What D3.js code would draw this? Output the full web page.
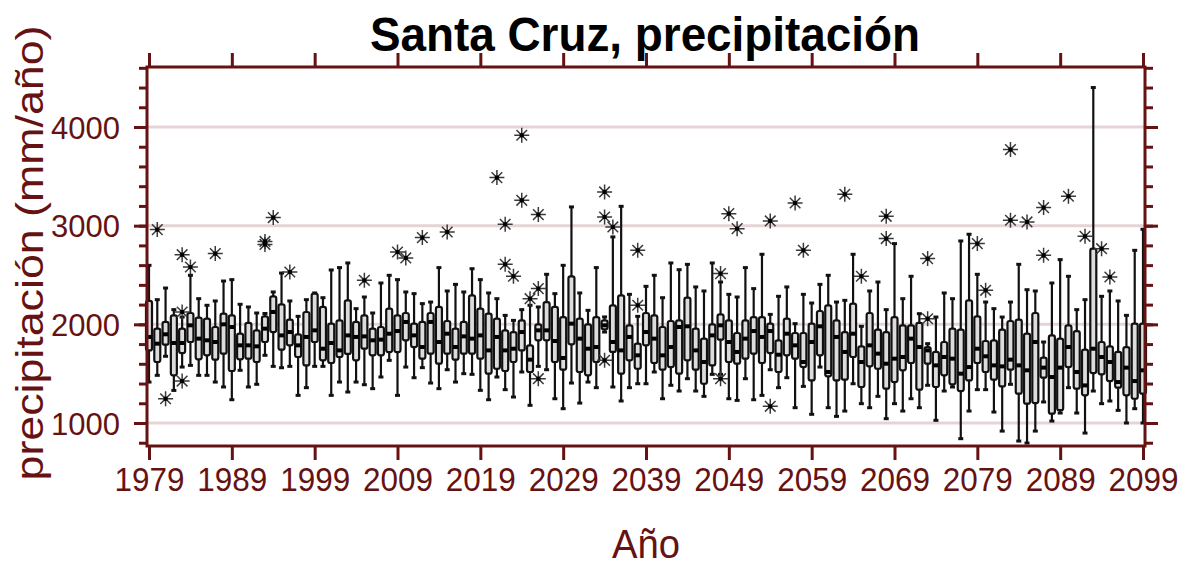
<!DOCTYPE html>
<html>
<head>
<meta charset="utf-8">
<script src="https://cdn.jsdelivr.net/npm/d3@7"></script>
<style>
  body { margin: 0; background: #fff; }
  text { font-family: "Liberation Sans", Arial, sans-serif; }
</style>
</head>
<body>
<div id="chart"></div>
<script>
// one box per year, 1979..2099
var years = d3.range(1979, 2100);

var whiskerLow = [1415,1483,1676,1330,1567,1584,1483,1483,1415,1365,1236,1534,1365,1392,1686,1574,1560,1574,1280,1358,
  1574,1574,1280,1415,1314,1415,1388,1348,1466,1635,1280,1567,1459,1561,1405,1348,1540,1415,1500,1493,
  1331,1236,1466,1338,1263,1517,1179,1574,1540,1246,1145,1405,1202,1415,1358,1922,1365,1223,1358,1398,
  1398,1517,1246,1382,1324,1449,1324,1270,1493,1493,1246,1229,1449,1236,1280,1540,1358,1459,1155,1371,
  1088,1567,1155,1067,1121,1398,1196,1155,1270,1044,1196,1121,1246,1155,1382,1027,1324,1365,841,1121,
  1338,1338,1111,918,1392,817,797,918,1213,1020,1101,1358,1101,898,1324,1196,1223,1128,1000,1145,1000];

var q1 = [1736,1618,1794,1483,1709,1821,1645,1686,1642,1703,1527,1645,1652,1618,1821,1922,1743,1787,1669,1584,
  1821,1635,1608,1669,1700,1635,1753,1686,1686,1719,1719,1838,1770,1652,1703,1601,1703,1642,1703,1703,
  1652,1500,1550,1527,1618,1736,1517,1838,1838,1618,1540,1797,1517,1483,1618,1950,1720,1500,1635,1550,
  1787,1608,1540,1567,1500,1635,1540,1398,1584,1845,1618,1601,1652,1703,1608,1709,1517,1686,1652,1567,
  1432,1686,1473,1432,1439,1669,1365,1574,1550,1348,1415,1534,1608,1338,1601,1365,1483,1392,1324,1432,
  1608,1517,1439,1371,1540,1297,1196,1202,1459,1095,1130,1567,1348,1280,1506,1493,1425,1358,1280,1246,1297];

var median = [1872,1804,1899,1811,1811,1990,1855,1838,1821,2000,1973,1787,1787,1777,1956,2125,1888,1922,1787,1872,
  1939,1753,1811,1736,1888,1872,1878,1838,1845,1905,1932,2024,1888,1770,2024,1821,1905,1770,1878,1855,
  1888,1736,1872,1736,1753,1922,1642,1939,1939,1831,1659,2007,1855,1753,1770,1990,1821,1736,1872,1686,
  1922,1855,1686,1770,1973,1980,1736,1618,1888,1990,1821,1720,1855,1932,1872,1932,1692,1905,1787,1618,
  1821,1980,1517,1872,1720,1905,1618,1787,1703,1601,1652,1669,1855,1770,1736,1584,1669,1652,1500,1567,
  1753,1676,1584,1574,1642,1584,1534,1821,1561,1466,1561,1770,1517,1381,1753,1669,1618,1415,1561,1425,1534];

var q3 = [2237,1956,2024,2091,1956,2115,2068,2057,1973,2108,2091,1905,2014,1939,2081,2284,2203,2047,1899,2125,
  2311,2176,2007,2040,2243,2024,2091,1956,1973,2159,2091,2115,2007,2024,2115,2176,2034,1956,2024,2294,
  2159,2108,2057,1939,1922,2040,1787,2000,2226,2176,2074,2487,2057,2000,2074,2040,2193,2294,1990,1804,
  2115,2091,1973,2034,2040,2270,1956,1855,2000,2101,2040,1912,2040,2074,2074,2007,1838,2057,1912,1912,
  2007,2135,2193,2040,1922,2210,1777,2115,1946,1922,2074,1990,1990,2014,1770,1720,1821,1956,1946,2243,
  2081,1831,1838,1946,2034,2047,1905,2115,1662,1888,1855,1990,1932,1743,2767,1821,1777,1720,1770,2007,2007];

var whiskerHigh = [2598,2250,2368,2149,2074,2497,2260,2193,2237,2439,2453,2203,2176,2115,2110,2328,2520,2237,2081,2250,
  2318,2270,2551,2575,2622,2159,2277,2115,2419,2497,2453,2328,2311,2210,2226,2575,2338,2405,2328,2564,
  2453,2318,2260,2091,2040,2149,2193,2176,2507,2311,2598,3190,2318,2142,2575,2075,2886,3196,2304,2081,
  2385,2497,2270,2622,2554,2608,2379,2338,2622,2429,2304,2277,2575,2362,2710,2101,2284,2379,2007,2304,
  2216,2405,2497,2226,2243,2710,1980,2338,2429,2149,2818,2260,2487,2108,1804,2074,2318,2260,2845,2913,
  2507,2226,2159,2074,2226,2608,2351,2338,1821,2419,2656,2487,2149,2250,4400,2284,2338,2237,2091,2750,2963];

// outliers: year and value
var outlierYears = [1980,1981,1983,1983,1983,1984,1987,1993,1993,1994,1996,2005,2009,2010,2012,2015,
  2021,2022,2022,2023,2024,2024,2025,2026,2026,2026,2034,2034,2034,2035,2038,2038,2048,2048,2049,2050,
  2054,2054,2057,2058,2063,2065,2068,2068,2073,2073,2079,2080,2083,2083,2085,2087,2087,2090,2092,2094,2095];
var outlierValues = [2960,1246,2706,2125,1425,2581,2717,2840,2810,3082,2530,2446,2733,2673,2879,2936,
  3487,3014,2608,2487,3916,3257,2260,3112,2362,1449,3342,3088,1635,2987,2750,2193,2514,1449,3122,2970,
  3048,1169,3230,2750,3318,2487,3095,2869,2666,2057,2818,2345,3771,3055,3038,3183,2700,3298,2892,2767,2480];

var xTicks = d3.range(1979, 2100, 10);
var yMajor = [1000, 2000, 3000, 4000];
var yMinor = d3.range(800, 4601, 200);

var maroon = "#661212";
var width = 1182, height = 565;
var plotLeft = 147, plotRight = 1145, plotTop = 67, plotBottom = 446;

var svg = d3.select("#chart").append("svg")
  .attr("width", width)
  .attr("height", height);

var x = d3.scaleLinear().domain([1979, 2099]).range([149, 1143]);
var y = d3.scaleLinear().domain([1000, 4000]).range([423, 127]);

// grid lines
svg.selectAll(".grid")
  .data(yMajor)
  .enter().append("line")
  .attr("x1", plotLeft).attr("x2", plotRight)
  .attr("y1", function(d){ return y(d); })
  .attr("y2", function(d){ return y(d); })
  .style("stroke", "#e6d3d5")
  .style("stroke-width", 3);

var boxes = svg.selectAll(".box")
  .data(years)
  .enter().append("g")
  .attr("class", "box");

var bw = 6;

// whiskers
boxes.append("line")
  .attr("x1", function(d){ return x(d); })
  .attr("x2", function(d){ return x(d); })
  .attr("y1", function(d, i){ return y(whiskerLow[i]); })
  .attr("y2", function(d, i){ return y(whiskerHigh[i]); })
  .style("stroke", "#111").style("stroke-width", 2.2);

boxes.append("line")
  .attr("x1", function(d){ return x(d) - 2.5; })
  .attr("x2", function(d){ return x(d) + 2.5; })
  .attr("y1", function(d, i){ return y(whiskerHigh[i]); })
  .attr("y2", function(d, i){ return y(whiskerHigh[i]); })
  .style("stroke", "#111").style("stroke-width", 3);

boxes.append("line")
  .attr("x1", function(d){ return x(d) - 2.5; })
  .attr("x2", function(d){ return x(d) + 2.5; })
  .attr("y1", function(d, i){ return y(whiskerLow[i]); })
  .attr("y2", function(d, i){ return y(whiskerLow[i]); })
  .style("stroke", "#111").style("stroke-width", 3);

// boxes
boxes.append("rect")
  .attr("x", function(d){ return x(d) - bw/2; })
  .attr("width", bw)
  .attr("y", function(d, i){ return y(q3[i]); })
  .attr("height", function(d, i){ return y(q1[i]) - y(q3[i]); })
  .attr("rx", 2)
  .style("fill", "#dcdcdc")
  .style("stroke", "#111")
  .style("stroke-width", 2.2);

// median mark
boxes.append("rect")
  .attr("x", function(d){ return x(d) - 2.5; })
  .attr("width", 5)
  .attr("y", function(d, i){ return y(median[i]) - 2; })
  .attr("height", 4)
  .style("fill", "#000");

// outliers as 8-armed asterisks
function asterisk(r){
  var a = r * 0.7071;
  return "M0," + (-r) + "V" + r + "M" + (-r) + ",0H" + r +
    "M" + (-a) + "," + (-a) + "L" + a + "," + a +
    "M" + (-a) + "," + a + "L" + a + "," + (-a);
}
svg.selectAll(".out")
  .data(outlierYears)
  .enter().append("path")
  .attr("class", "out")
  .attr("d", asterisk(7.5))
  .attr("transform", function(d, i){ return "translate(" + x(d) + "," + y(outlierValues[i]) + ")"; })
  .style("fill", "none")
  .style("stroke", "#3a3a3a")
  .style("stroke-width", 1.5);

svg.selectAll(".outdot")
  .data(outlierYears)
  .enter().append("rect")
  .attr("x", function(d){ return x(d) - 2; })
  .attr("y", function(d, i){ return y(outlierValues[i]) - 2; })
  .attr("width", 4).attr("height", 4)
  .style("fill", "#000");

// axes
function styleAxis(g){
  g.select(".domain").remove();
  g.selectAll("line").style("stroke", maroon).style("stroke-width", 3);
  g.selectAll("text").style("fill", maroon).style("font-family", "'Liberation Sans', Arial, sans-serif");
}

svg.append("g").attr("transform", "translate(" + plotLeft + ",0)")
  .call(d3.axisLeft(y).tickValues(yMinor).tickSize(8).tickFormat(""))
  .call(styleAxis);
svg.append("g").attr("transform", "translate(" + plotLeft + ",0)")
  .call(d3.axisLeft(y).tickValues(yMajor).tickSize(13).tickPadding(14).tickFormat(d3.format("d")))
  .call(styleAxis)
  .selectAll("text").style("font-size", "31px").attr("dy", "0.36em");

svg.append("g").attr("transform", "translate(" + plotRight + ",0)")
  .call(d3.axisRight(y).tickValues(yMinor).tickSize(8).tickFormat(""))
  .call(styleAxis);
svg.append("g").attr("transform", "translate(" + plotRight + ",0)")
  .call(d3.axisRight(y).tickValues(yMajor).tickSize(13).tickFormat(""))
  .call(styleAxis);

svg.append("g").attr("transform", "translate(0," + plotBottom + ")")
  .call(d3.axisBottom(x).tickValues(xTicks).tickSize(14).tickPadding(8).tickFormat(d3.format("d")))
  .call(styleAxis)
  .selectAll("text")
  .style("font-size", "33px")
  .attr("textLength", 70)
  .attr("lengthAdjust", "spacingAndGlyphs");

svg.append("g").attr("transform", "translate(0," + plotTop + ")")
  .call(d3.axisTop(x).tickValues(xTicks).tickSize(14).tickFormat(""))
  .call(styleAxis);

// frame
svg.append("rect")
  .attr("x", plotLeft).attr("y", plotTop)
  .attr("width", plotRight - plotLeft).attr("height", plotBottom - plotTop)
  .style("fill", "none")
  .style("stroke", maroon)
  .style("stroke-width", 3);

// titles
svg.append("text")
  .attr("x", 645).attr("y", 51)
  .attr("text-anchor", "middle")
  .attr("textLength", 550)
  .attr("lengthAdjust", "spacingAndGlyphs")
  .style("font-size", "48px")
  .style("font-weight", "bold")
  .style("fill", "#000")
  .text("Santa Cruz, precipitación");

svg.append("text")
  .attr("x", 646).attr("y", 558)
  .attr("text-anchor", "middle")
  .attr("textLength", 68)
  .attr("lengthAdjust", "spacingAndGlyphs")
  .style("font-size", "40px")
  .style("fill", maroon)
  .text("Año");

svg.append("text")
  .attr("transform", "translate(43,253) rotate(-90)")
  .attr("text-anchor", "middle")
  .attr("textLength", 455)
  .attr("lengthAdjust", "spacingAndGlyphs")
  .style("font-size", "38px")
  .style("fill", maroon)
  .text("precipitación (mm/año)");
</script>
</body>
</html>
